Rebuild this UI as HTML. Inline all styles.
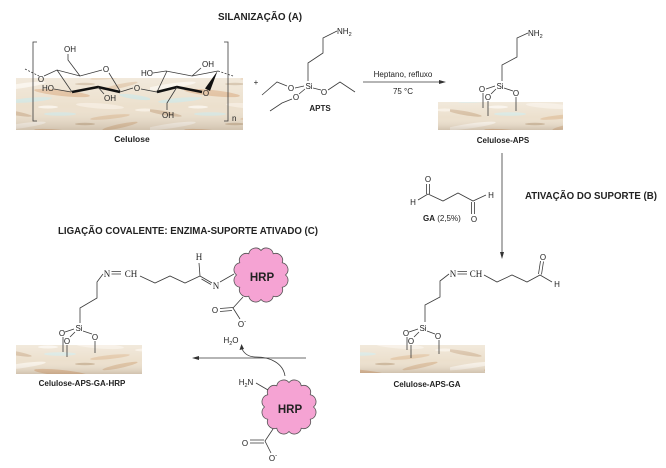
<!DOCTYPE html>
<html><head><meta charset="utf-8"><style>
html,body{margin:0;padding:0;background:#fff;}
svg{display:block;}
text{font-family:"Liberation Sans",Arial,sans-serif;fill:#222;}
.a{font-size:8px;}
.s{font-family:"Liberation Serif","Times New Roman",serif;font-size:9px;}
.b{font-weight:bold;}
.l{fill:none;stroke:#3a3a3a;stroke-width:0.8;}
</style></head><body>
<svg width="666" height="468" viewBox="0 0 666 468" xmlns="http://www.w3.org/2000/svg">
<defs>
<pattern id="tex" patternUnits="userSpaceOnUse" width="150" height="40">
<rect width="150" height="40" fill="#ece0cd"/>
<ellipse cx="20" cy="6" rx="26" ry="2.4" fill="#f8f2e8" transform="rotate(-8 20 6)"/>
<ellipse cx="62" cy="13" rx="28" ry="3" fill="#dcb38c" opacity="0.8" transform="rotate(6 62 13)"/>
<ellipse cx="30" cy="20" rx="22" ry="2.2" fill="#d6e6e1" transform="rotate(-5 30 20)"/>
<ellipse cx="100" cy="26" rx="24" ry="2.6" fill="#f5ecdf" transform="rotate(4 100 26)"/>
<ellipse cx="14" cy="33" rx="18" ry="2" fill="#cdb090" opacity="0.7" transform="rotate(10 14 33)"/>
<ellipse cx="60" cy="34" rx="16" ry="1.8" fill="#d9e8e3"/>
<ellipse cx="120" cy="6" rx="18" ry="2" fill="#d8b48f" opacity="0.7" transform="rotate(-12 120 6)"/>
<ellipse cx="85" cy="4" rx="10" ry="1.3" fill="#b99c7c" opacity="0.6"/>
<ellipse cx="135" cy="17" rx="16" ry="2.2" fill="#d3e4df" transform="rotate(8 135 17)"/>
<ellipse cx="110" cy="37" rx="20" ry="2" fill="#e0bf9c" opacity="0.7" transform="rotate(-6 110 37)"/>
<ellipse cx="48" cy="27" rx="10" ry="1.5" fill="#f9f3ea"/>
<ellipse cx="145" cy="30" rx="10" ry="1.5" fill="#f7efe3"/>
</pattern>
<linearGradient id="shade" x1="0" y1="0" x2="0" y2="1">
<stop offset="0" stop-color="#fff" stop-opacity="0.3"/>
<stop offset="0.55" stop-color="#fff" stop-opacity="0"/>
<stop offset="1" stop-color="#8a7560" stop-opacity="0.28"/>
</linearGradient>
<path id="cloud" d="M24.5,0 A7,7 0 0 1 21.22,12.25 A7,7 0 0 1 12.25,21.22 A7,7 0 0 1 0,24.5 A7,7 0 0 1 -12.25,21.22 A7,7 0 0 1 -21.22,12.25 A7,7 0 0 1 -24.5,0 A7,7 0 0 1 -21.22,-12.25 A7,7 0 0 1 -12.25,-21.22 A7,7 0 0 1 0,-24.5 A7,7 0 0 1 12.25,-21.22 A7,7 0 0 1 21.22,-12.25 A7,7 0 0 1 24.5,0 Z" fill="#f5a3d3" stroke="#555" stroke-width="0.8"/>
</defs>

<!-- Titles -->
<text x="218" y="20" class="b" font-size="10" textLength="84" lengthAdjust="spacingAndGlyphs">SILANIZAÇÃO  (A)</text>
<text x="525" y="199" class="b" font-size="10" textLength="132" lengthAdjust="spacingAndGlyphs">ATIVAÇÃO DO SUPORTE (B)</text>
<text x="58" y="234" class="b" font-size="10" textLength="260" lengthAdjust="spacingAndGlyphs">LIGAÇÃO COVALENTE: ENZIMA-SUPORTE ATIVADO (C)</text>

<!-- Cellulose texture -->
<rect x="16" y="78" width="227" height="52" fill="url(#tex)"/>
<rect x="16" y="78" width="227" height="52" fill="url(#shade)"/>

<!-- Cellulose structure -->
<path class="l" d="M37,42 H33 V121 H37"/>
<path class="l" d="M224,42 H228 V121 H224"/>
<text x="232" y="121" class="a" font-size="7">n</text>
<path class="l" d="M25,69 L39,76" stroke-dasharray="2,1.5"/>
<text x="41" y="82" class="a" text-anchor="middle">O</text>
<path class="l" d="M44,76 L57,70 L80,76 L102,70"/>
<text x="106" y="72" class="a" text-anchor="middle">O</text>
<path class="l" d="M109,73 L120,91"/>
<path d="M120,92 L98,87 L72,92" fill="none" stroke="#111" stroke-width="2.6" stroke-linejoin="round"/>
<path class="l" d="M72,92 L57,70"/>
<path class="l" d="M80,76 L68,60 L68,54"/>
<text x="70" y="52" class="a" text-anchor="middle">OH</text>
<text x="48" y="91" class="a" text-anchor="middle">HO</text>
<path class="l" d="M54,89 L71,92"/>
<path class="l" d="M98,87 L104,94"/>
<text x="110" y="101" class="a" text-anchor="middle">OH</text>
<path class="l" d="M120,92 L133,88"/>
<text x="137" y="91" class="a" text-anchor="middle">O</text>
<path class="l" d="M141,89 L157,92 L167,71"/>
<text x="147" y="76" class="a" text-anchor="middle">HO</text>
<path class="l" d="M153,73 L166,71 L192,76 L218,71"/>
<path class="l" d="M192,76 L201,68"/>
<text x="208" y="67" class="a" text-anchor="middle">OH</text>
<path class="l" d="M218,71 L233,76" stroke-dasharray="2,1.5"/>
<polygon points="217.5,71 210,91 205,88.5" fill="#111"/>
<text x="206" y="96" class="a" text-anchor="middle">O</text>
<path d="M157,92 L177,87 L202,92" fill="none" stroke="#111" stroke-width="2.6" stroke-linejoin="round"/>
<path class="l" d="M177,87 L167,103 L167,110"/>
<text x="168" y="118" class="a" text-anchor="middle">OH</text>
<text x="132" y="142" class="b" font-size="8.5" text-anchor="middle">Celulose</text>

<text x="256" y="85" class="a" text-anchor="middle" fill="#666">+</text>

<!-- APTS -->
<path class="l" d="M337,31 L323,38 L323,53 L308,63 L308,81"/>
<text x="337" y="34" class="a">NH<tspan font-size="5.5" dy="2">2</tspan></text>
<text x="309" y="89" class="a" text-anchor="middle">Si</text>
<text x="291" y="91" class="a" text-anchor="middle">O</text>
<text x="296" y="100" class="a" text-anchor="middle">O</text>
<text x="324" y="95" class="a" text-anchor="middle">O</text>
<path class="l" d="M304,86 L295,88 M305,89 L299,94 M313,88 L321,90"/>
<path class="l" d="M287,86 L277,82 L262,95"/>
<path class="l" d="M292,99 L282,103 L270,111"/>
<path class="l" d="M328,90 L340,82 L355,92"/>
<text x="320" y="111" class="b" font-size="8" text-anchor="middle">APTS</text>

<!-- Arrow A -->
<path class="l" d="M363,82 L441,82"/>
<polygon points="446,82 439,80 439,84" fill="#333"/>
<text x="403" y="77" class="a" text-anchor="middle">Heptano, refluxo</text>
<text x="403" y="94" class="a" text-anchor="middle">75 °C</text>

<!-- Celulose-APS -->
<rect x="438" y="102" width="125" height="28" fill="url(#tex)"/>
<rect x="438" y="102" width="125" height="28" fill="url(#shade)"/>
<path class="l" d="M528,33 L517,38 L517,57 L502,65 L502,81"/>
<text x="528" y="36" class="a">NH<tspan font-size="5.5" dy="2">2</tspan></text>
<text x="500" y="89" class="a" text-anchor="middle">Si</text>
<text x="482" y="92" class="a" text-anchor="middle">O</text>
<text x="488" y="100" class="a" text-anchor="middle">O</text>
<text x="516" y="96" class="a" text-anchor="middle">O</text>
<path class="l" d="M495,86 L486,89 M496,89 L491,94 M504,88 L513,91"/>
<path class="l" d="M483,93 L483,108 M488,101 L488,116 M516,97 L516,111"/>
<text x="503" y="143" class="b" font-size="8" text-anchor="middle">Celulose-APS</text>

<!-- Arrow B -->
<path class="l" d="M502,153 L502,254"/>
<polygon points="502,259 500,252 504,252" fill="#333"/>

<!-- GA -->
<text x="428" y="182" class="a" text-anchor="middle">O</text>
<path class="l" d="M426.5,184 L426.5,194 M429.5,184 L429.5,194"/>
<path class="l" d="M428,194 L418,200"/>
<text x="413" y="205" class="a" text-anchor="middle">H</text>
<path class="l" d="M428,194 L443,201 L458,193 L473,201 L486,195"/>
<text x="491" y="198" class="a" text-anchor="middle">H</text>
<path class="l" d="M471.5,202 L471.5,214 M474.5,202 L474.5,214"/>
<text x="474" y="222" class="a" text-anchor="middle">O</text>
<text x="423" y="221" class="a"><tspan font-weight="bold">GA</tspan> (2,5%)</text>

<!-- Celulose-APS-GA -->
<rect x="360" y="345" width="125" height="28" fill="url(#tex)"/>
<rect x="360" y="345" width="125" height="28" fill="url(#shade)"/>
<text x="453" y="277" class="s" text-anchor="middle">N</text>
<path class="l" d="M457.5,271.5 L467,271.5 M457.5,274 L467,274"/>
<text x="476" y="277" class="s" text-anchor="middle">CH</text>
<path class="l" d="M484,275 L497,282 L512,275 L527,282 L540,275 L552,282"/>
<path class="l" d="M538.5,274 L540.5,261 M541.5,274.5 L543.5,261.5"/>
<text x="543" y="260" class="a" text-anchor="middle">O</text>
<text x="557" y="287" class="a" text-anchor="middle">H</text>
<path class="l" d="M449,274 L440,281 L440,297 L425,305 L425,322"/>
<text x="423" y="331" class="a" text-anchor="middle">Si</text>
<text x="406" y="336" class="a" text-anchor="middle">O</text>
<text x="411" y="344" class="a" text-anchor="middle">O</text>
<text x="438" y="339" class="a" text-anchor="middle">O</text>
<path class="l" d="M418,329 L409,332 M419,332 L414,337 M427,331 L435,334"/>
<path class="l" d="M407,337 L407,350 M411,345 L411,358 M439,340 L439,354"/>
<text x="427" y="387" class="b" font-size="8" text-anchor="middle">Celulose-APS-GA</text>

<!-- Celulose-APS-GA-HRP -->
<rect x="16" y="345" width="126" height="29" fill="url(#tex)"/>
<rect x="16" y="345" width="126" height="29" fill="url(#shade)"/>
<text x="107" y="277" class="s" text-anchor="middle">N</text>
<path class="l" d="M111.5,271.5 L121,271.5 M111.5,274 L121,274"/>
<text x="131" y="277" class="s" text-anchor="middle">CH</text>
<path class="l" d="M140,276 L155,283 L170,276 L185,283 L200,276 L199,263"/>
<text x="199" y="260" class="s" text-anchor="middle" font-size="8.5">H</text>
<path class="l" d="M200,276 L212,283 M201.5,279 L211,284.5"/>
<text x="216" y="289" class="s" text-anchor="middle">N</text>
<path class="l" d="M220,282 L234,274"/>
<path class="l" d="M103,274 L97,282 L97,298 L80,308 L80,323"/>
<text x="79" y="331" class="a" text-anchor="middle">Si</text>
<text x="62" y="336" class="a" text-anchor="middle">O</text>
<text x="67" y="344" class="a" text-anchor="middle">O</text>
<text x="95" y="340" class="a" text-anchor="middle">O</text>
<path class="l" d="M74,329 L65,332 M75,332 L70,337 M83,331 L92,334"/>
<path class="l" d="M63,337 L63,352 M67,345 L67,357 M95,341 L95,353"/>
<text x="82" y="386" class="b" font-size="8" text-anchor="middle">Celulose-APS-GA-HRP</text>

<!-- Top HRP -->
<use href="#cloud" transform="translate(261,275)"/>
<text x="262" y="281" class="b" font-size="11.5" text-anchor="middle">HRP</text>
<path class="l" d="M243,297 L233,308 L240,319"/>
<path class="l" d="M220,308.5 L233,307.5 M220,311.5 L232,310.5"/>
<text x="215" y="313" class="a" text-anchor="middle">O</text>
<text x="242" y="327" class="a" text-anchor="middle">O<tspan font-size="6" dy="-4">-</tspan></text>

<!-- Arrow C -->
<path class="l" d="M306,358 L197,358"/>
<polygon points="192,358 199,356 199,360" fill="#333"/>
<path class="l" d="M285,376 C283,363 270,357 256,357 C248,357 244,353 242,349"/>
<polygon points="241.5,344 239.5,350 244,349" fill="#333"/>
<text x="231" y="343" class="a" text-anchor="middle">H<tspan font-size="5.5" dy="2">2</tspan><tspan dy="-2">O</tspan></text>

<!-- Bottom HRP -->
<use href="#cloud" transform="translate(289,407)"/>
<text x="290" y="413" class="b" font-size="11.5" text-anchor="middle">HRP</text>
<text x="246" y="385" class="a" text-anchor="middle">H<tspan font-size="5.5" dy="2">2</tspan><tspan dy="-2">N</tspan></text>
<path class="l" d="M256,383 L268,390"/>
<path class="l" d="M273,429 L265,441 L271,453"/>
<path class="l" d="M250,440 L264,440 M250,443 L264,443"/>
<text x="245" y="446" class="a" text-anchor="middle">O</text>
<text x="273" y="461" class="a" text-anchor="middle">O<tspan font-size="6" dy="-4">-</tspan></text>
</svg>
</body></html>
